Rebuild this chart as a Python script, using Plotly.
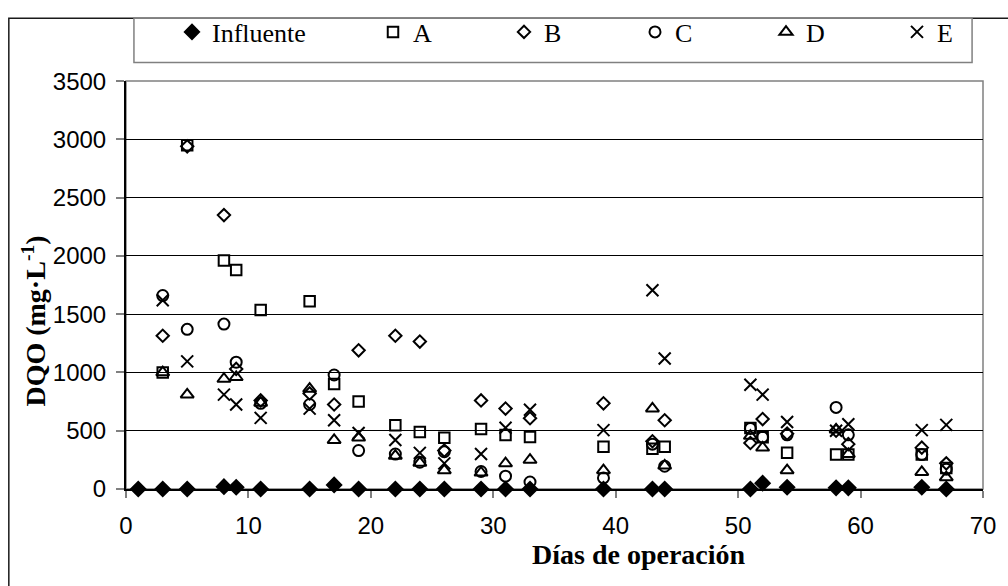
import plotly.graph_objects as go

# Días de operación en que se muestrearon los reactores
dias = [3, 5, 8, 9, 11, 15, 17, 19, 22, 24, 26, 29, 31, 33, 39, 43, 44, 51, 52, 54, 58, 59, 65, 67]
dias_influente = [1] + dias

# DQO (mg/L)
influente = [0, 0, 0, 20, 15, 0, 0, 35, 0, 0, 0, 0, 0, 0, 0, 0, 0, 0, 0, 50, 15, 10, 10, 15, 0]
serie_a = [1000, 2950, 1960, 1880, 1535, 1610, 900, 750, 548, 489, 440, 514, 464, 447, 363, 345, 363, 523, 445, 312, 295, 295, 295, 180]
serie_b = [1315, 2940, 2350, 1030, 760, 820, 725, 1190, 1315, 1265, 330, 760, 690, 607, 735, 410, 590, 395, 600, 475, 500, 385, 355, 220]
serie_c = [1660, 1370, 1415, 1088, 735, 725, 978, 330, 300, 230, 320, 150, 110, 60, 95, 385, 195, 520, 445, 465, 700, 465, 295, 170]
serie_d = [1000, 810, 945, 960, 740, 860, 420, 440, 285, 225, 160, 140, 220, 250, 160, 690, 200, 455, 355, 160, 510, 300, 145, 100]
serie_e = [1620, 1095, 810, 725, 610, 690, 590, 480, 420, 310, 220, 300, 525, 680, 505, 1705, 1120, 895, 810, 575, 500, 555, 505, 550]

x_ticks = [0, 10, 20, 30, 40, 50, 60, 70]
y_ticks = [0, 500, 1000, 1500, 2000, 2500, 3000, 3500]

W, H = 1008, 586
ML, MR, MT, MB = 126, 19, 74, 97
PW, PH = W - ML - MR, H - MT - MB


def px_x(px):
    return (px - ML) / PW


def px_y(py):
    return (H - MB - py) / PH


SANS = "Liberation Sans, Arial, sans-serif"
SERIF = "Liberation Serif, Times New Roman, serif"

fig = go.Figure()

series = [
    ("Influente", dias_influente, influente, "diamond", 11, 156),
    ("A", dias, serie_a, "square-open", 10.5, 86),
    ("B", dias, serie_b, "diamond-open", 9.5, 86),
    ("C", dias, serie_c, "circle-open", 11, 86),
    ("D", dias, serie_d, "triangle-up-open", 11.5, 86),
    ("E", dias, serie_e, "x-thin-open", 12, 86),
]

for name, xs, ys, symbol, size, lw in series:
    fig.add_trace(go.Scatter(
        x=xs, y=ys, name=name, mode="markers",
        marker=dict(symbol=symbol, size=size, color="black",
                    line=dict(color="black", width=2)),
        legendwidth=lw,
        cliponaxis=False,
    ))

fig.update_layout(
    width=W, height=H, autosize=False,
    margin=dict(l=ML, r=MR, t=MT, b=MB, pad=0),
    paper_bgcolor="white", plot_bgcolor="white",
    showlegend=True,
    legend=dict(
        orientation="h",
        xref="container", yref="container",
        x=(192 - 20) / W, xanchor="left",
        y=1 - 32 / H, yanchor="middle",
        font=dict(family=SERIF, size=26, color="black"),
        bgcolor="rgba(0,0,0,0)", borderwidth=0,
        traceorder="normal",
    ),
    xaxis=dict(
        range=[0, 70], tickvals=x_ticks, ticktext=[str(v) for v in x_ticks],
        showgrid=False, zeroline=False,
        showline=True, linecolor="black", linewidth=2,
        ticks="outside", ticklen=7, tickwidth=1.5, tickcolor="#808080",
        tickfont=dict(family=SANS, size=24, color="black"),
        ticklabelstandoff=7,
    ),
    yaxis=dict(
        range=[0, 3500], tickvals=y_ticks, ticktext=[str(v) for v in y_ticks],
        showgrid=True, gridcolor="black", gridwidth=1,
        zeroline=False,
        showline=True, linecolor="black", linewidth=2,
        ticks="outside", ticklen=8, tickwidth=1.5, tickcolor="#808080",
        tickfont=dict(family=SANS, size=24, color="black"),
        ticklabelstandoff=5,
    ),
    shapes=[
        # borde del área de trazado
        dict(type="rect", xref="paper", yref="paper", x0=0, x1=1, y0=0, y1=1,
             line=dict(color="#808080", width=1.5), layer="below"),
        # marco exterior del gráfico
        dict(type="rect", xref="paper", yref="paper",
             x0=px_x(8), x1=px_x(1030), y0=px_y(10), y1=px_y(620),
             line=dict(color="#1a1a1a", width=1.5), layer="above"),
        # recuadro de la leyenda
        dict(type="rect", xref="paper", yref="paper",
             x0=px_x(134), x1=px_x(978), y0=px_y(10), y1=px_y(55),
             line=dict(color="#808080", width=1.5), layer="above"),
    ],
    annotations=[
        dict(text="<b>DQO (mg·L<sup>-1</sup>)</b>", textangle=-90,
             xref="paper", yref="paper", x=px_x(34), y=px_y(318),
             xanchor="center", yanchor="middle", showarrow=False,
             font=dict(family=SERIF, size=28, color="black")),
        dict(text="<b>Días de operación</b>",
             xref="paper", yref="paper", x=px_x(643), y=px_y(556),
             xanchor="center", yanchor="middle", showarrow=False,
             font=dict(family=SERIF, size=28, color="black")),
    ],
)

fig.write_html("out.html")
